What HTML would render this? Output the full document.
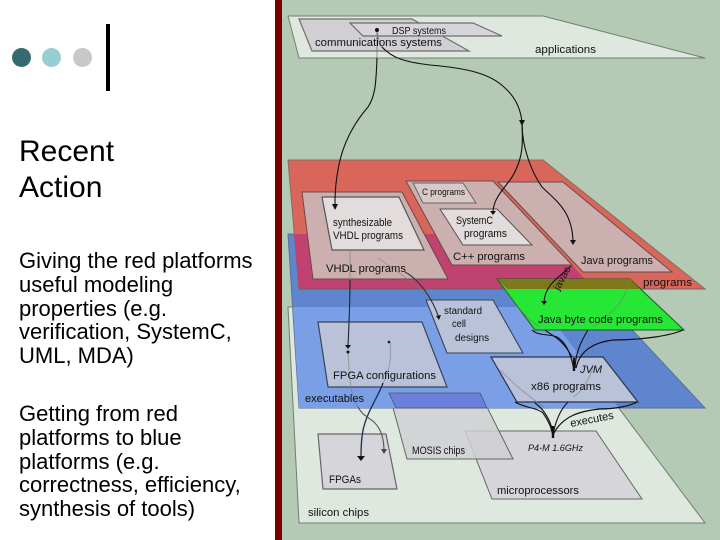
<!DOCTYPE html>
<html>
<head>
<meta charset="utf-8">
<style>
html,body{margin:0;padding:0;background:#fff}
body{width:720px;height:540px;position:relative;overflow:hidden;font-family:"Liberation Sans",Arial,sans-serif;color:#000}
.d{position:absolute;border-radius:50%;width:19px;height:19px;top:48px}
.t{position:absolute;left:19px;white-space:nowrap}
svg{position:absolute;left:0;top:0}
.b{filter:blur(.35px)}
text{font-family:"Liberation Sans",Arial,sans-serif;font-size:11px;fill:#111}
</style>
</head>
<body>
<div class="d" style="left:12px;background:#356a70"></div>
<div class="d" style="left:42px;background:#96cfd2"></div>
<div class="d" style="left:73px;background:#c8c8c8"></div>
<div style="position:absolute;left:106px;top:24px;width:4px;height:67px;background:#000"></div>
<div class="t" style="top:134px;font-size:30px;line-height:36px">Recent<br>Action</div>
<div class="t" style="top:249px;font-size:22px;line-height:23.8px">Giving the red platforms<br>useful modeling<br>properties (e.g.<br>verification, SystemC,<br>UML, MDA)</div>
<div class="t" style="top:402px;font-size:22px;line-height:23.8px">Getting from red<br>platforms to blue<br>platforms (e.g.<br>correctness, efficiency,<br>synthesis of tools)</div>
<div style="position:absolute;left:275px;top:0;width:7px;height:540px;background:#7a0000"></div>
<svg class="b" width="720" height="540" viewBox="0 0 720 540" style="clip-path:inset(0 0 0 282px)">
<rect x="282" y="0" width="438" height="540" fill="#b4cab4"/>
<g stroke-linejoin="miter">
<!-- applications -->
<polygon points="288,16 543,16 705,58 299,58" fill="#dfe8df" stroke="#6f7f6f" stroke-width="1"/>
<polygon points="299,19 412,19 469,51 312,51" fill="#cfcfd4" stroke="#6e6e6e" stroke-width="1.2"/>
<polygon points="350,23 473,23 502,36 363,36" fill="#d6d6da" stroke="#6e6e6e" stroke-width="1.2"/>
<!-- silicon -->
<polygon points="288,307 543,307 705,523 299,523" fill="#dfe8df" stroke="#6f7f6f" stroke-width="1"/>
<polygon points="318,434 386,434 397,489 323,489" fill="#d5d5da" stroke="#666" stroke-width="1.2"/>
<polygon points="465,431 596,431 642,499 492,499" fill="#d5d5da" stroke="#666" stroke-width="1"/>
<polygon points="389,393 480,393 513,459 407,459" fill="#d0d0d4" fill-opacity=".85" stroke="#666" stroke-width="1"/>
<!-- blue -->
<polygon points="288,234 543,234 705,408 299,408" fill="#5f85cf" stroke="#5a6f99" stroke-width="1"/>
<polygon points="293,307 543,307 619,408 299,408" fill="#7a9fe6"/>
<polygon points="389,393 480,393 487,408 396,408" fill="#6b80dc" stroke="#4a5568" stroke-width=".8"/>
<polygon points="318,322 422,322 447,387 328,387" fill="#b9c2d8" stroke="#3a4455" stroke-width="1.2"/>
<polygon points="426,300 493,300 523,353 447,353" fill="#b9c2d8" stroke="#3a4455" stroke-width="1.1"/>
<polygon points="491,357 603,357 638,402 517,402" fill="#b9c2d8" stroke="#2a3445" stroke-width="1.2"/>
<!-- red -->
<polygon points="288,160 543,160 705,289 299,289" fill="#d9665a" stroke="#8a6a60" stroke-width="1"/>
<polygon points="294,234 543,234 594,289 299,289" fill="#bf4270"/>
<line x1="299" y1="289" x2="705" y2="289" stroke="#7a5a60" stroke-width="1"/>
<polygon points="302,192 402,192 448,279 313,279" fill="#ccb0b0" stroke="#6a4a4a" stroke-width="1"/>
<polygon points="322,197 399,197 424,250 332,250" fill="#e2dcdc" stroke="#555" stroke-width="1.2"/>
<polygon points="406,181 493,181 572,265 452,265" fill="#ccb0b0" stroke="#6a4a4a" stroke-width="1"/>
<polygon points="413,183 463,183 476,203 423,203" fill="#d8c8c8" stroke="#666" stroke-width="1"/>
<polygon points="440,209 497,209 532,245 463,245" fill="#e2dcdc" stroke="#555" stroke-width="1"/>
<polygon points="498,182 563,182 672,272 583,272" fill="#ccb0b0" stroke="#6a4a4a" stroke-width="1"/>
<!-- green -->
<polygon points="497,279 630,279 684,330 535,330" fill="#26e636" stroke="#1a5a20" stroke-width="1"/>
<polygon points="497,279 630,279 640,289 507,289" fill="#7e7a1a"/>
</g>
<!-- pale connectors -->
<g fill="none" stroke="#777" stroke-opacity=".55" stroke-width="1">
<path d="M377,30 L377,58" stroke-width="1.5"/>
<path d="M377,30 C378,40 380,45 382,47" stroke-width="1.5"/>
<path d="M348,352 C349,370 350,385 352,392 C354,400 358,407 358,407"/>
<path d="M390,342 C391,355 391,370 383,383"/>
<path d="M350,250 L350,280"/>
<path d="M378,258 C395,270 410,280 425,293"/>
<path d="M628,280 C628,295 618,310 593,327"/>
<path d="M505,290 C515,305 528,320 540,327"/>
<path d="M500,370 C510,380 520,390 545,408"/>
<path d="M593,367 C590,378 582,392 573,397"/>
<path d="M522,123 L522,150"/>
</g>
<!-- dark connectors -->
<g fill="none" stroke="#111" stroke-width="1.1">
<path d="M377,58 C376,80 376,95 368,107 C355,122 345,140 340,160 C336,178 335,190 335,205"/>
<path d="M382,47 C392,58 405,62 430,65 C465,68 490,73 505,88 C516,98 521,110 522,123 C523,140 524,160 510,180 C500,193 494,200 493,211"/>
<path d="M522,123 C522,145 530,170 542,187 C555,200 572,210 573,241"/>
<path d="M350,280 C350,300 349,325 348,346" stroke="#223"/>
<path d="M571,266 C558,278 545,285 544,302"/>
<path d="M405,272 C420,280 433,300 439,318" stroke="#333"/>
<path d="M383,383 C378,398 364,415 362,437 C361,445 361,450 361,458" stroke="#1a2a55" stroke-width="1.3"/>
<path d="M358,407 C362,415 368,417 374,422 C382,430 384,440 384,452" stroke="#555"/>
<path d="M532,330 C538,336 550,334 557,337 C565,342 570,350 574,370"/>
<path d="M545,330 C552,336 562,338 572,357"/>
<path d="M588,330 C582,340 576,350 575,368"/>
<path d="M683,330 C670,336 640,340 613,340 C595,342 580,350 576,368" stroke-width="1.2"/>
<path d="M515,402 C525,408 538,408 543,413 C548,420 552,428 553,437"/>
<path d="M535,403 C545,410 550,420 553,432"/>
<path d="M568,402 C562,408 556,418 553,435"/>
<path d="M637,402 C630,406 615,409 600,409 C580,411 562,416 553,435" stroke-width="1.2"/>
<line x1="574" y1="358" x2="574" y2="371" stroke-width="2.4"/>
<line x1="553" y1="426" x2="553" y2="438" stroke-width="2.4"/>
</g>
<g fill="#111">
<circle cx="377" cy="30" r="2"/>
<circle cx="348" cy="352" r="1.5"/>
<circle cx="389" cy="342" r="1.3"/>
<polygon points="332,204 338,204 335,210"/>
<polygon points="490,211 496,211 493,215"/>
<polygon points="570,240 576,240 573,245"/>
<polygon points="519,120 525,120 522,126"/>
<polygon points="541,301 547,301 544,305"/>
<polygon points="436,316 441,315 439,320"/>
<polygon points="345,345 351,345 348,349"/>
<polygon points="381,449 387,449 384,454" fill="#444"/>
<polygon points="357,456 365,456 361,461"/>
</g>
<!-- labels -->
<text x="392" y="34" textLength="54" lengthAdjust="spacingAndGlyphs" style="font-size:10px">DSP systems</text>
<text x="315" y="46" textLength="127" lengthAdjust="spacingAndGlyphs">communications systems</text>
<text x="535" y="53" textLength="61" lengthAdjust="spacingAndGlyphs">applications</text>
<text x="333" y="226" textLength="59" lengthAdjust="spacingAndGlyphs">synthesizable</text>
<text x="333" y="239" textLength="70" lengthAdjust="spacingAndGlyphs">VHDL programs</text>
<text x="326" y="272" textLength="80" lengthAdjust="spacingAndGlyphs">VHDL programs</text>
<text x="422" y="195" textLength="43" lengthAdjust="spacingAndGlyphs" style="font-size:9.5px">C programs</text>
<text x="456" y="224" textLength="37" lengthAdjust="spacingAndGlyphs">SystemC</text>
<text x="464" y="237" textLength="43" lengthAdjust="spacingAndGlyphs">programs</text>
<text x="453" y="260" textLength="72" lengthAdjust="spacingAndGlyphs">C++ programs</text>
<text x="581" y="264" textLength="72" lengthAdjust="spacingAndGlyphs">Java programs</text>
<text x="643" y="286" textLength="49" lengthAdjust="spacingAndGlyphs">programs</text>
<text x="538" y="323" textLength="125" lengthAdjust="spacingAndGlyphs">Java byte code programs</text>
<text x="444" y="314" textLength="38" lengthAdjust="spacingAndGlyphs" style="font-size:10px">standard</text>
<text x="452" y="327" textLength="14" lengthAdjust="spacingAndGlyphs" style="font-size:10px">cell</text>
<text x="455" y="341" textLength="34" lengthAdjust="spacingAndGlyphs" style="font-size:10px">designs</text>
<text x="333" y="379" textLength="103" lengthAdjust="spacingAndGlyphs">FPGA configurations</text>
<text x="305" y="402" textLength="59" lengthAdjust="spacingAndGlyphs">executables</text>
<text x="580" y="373" textLength="22" lengthAdjust="spacingAndGlyphs" style="font-style:italic">JVM</text>
<text x="531" y="390" textLength="70" lengthAdjust="spacingAndGlyphs">x86 programs</text>
<text transform="translate(571,427) rotate(-11)" textLength="44" lengthAdjust="spacingAndGlyphs">executes</text>
<text x="412" y="454" textLength="53" lengthAdjust="spacingAndGlyphs">MOSIS chips</text>
<text x="528" y="451" textLength="55" lengthAdjust="spacingAndGlyphs" style="font-style:italic;font-size:9.5px">P4-M 1.6GHz</text>
<text x="329" y="483" textLength="32" lengthAdjust="spacingAndGlyphs">FPGAs</text>
<text x="497" y="494" textLength="82" lengthAdjust="spacingAndGlyphs">microprocessors</text>
<text x="308" y="516" textLength="61" lengthAdjust="spacingAndGlyphs">silicon chips</text>
<text transform="translate(559,291) rotate(-62)" textLength="25" lengthAdjust="spacingAndGlyphs" style="font-size:10px">javac</text>
</svg>
</body>
</html>
